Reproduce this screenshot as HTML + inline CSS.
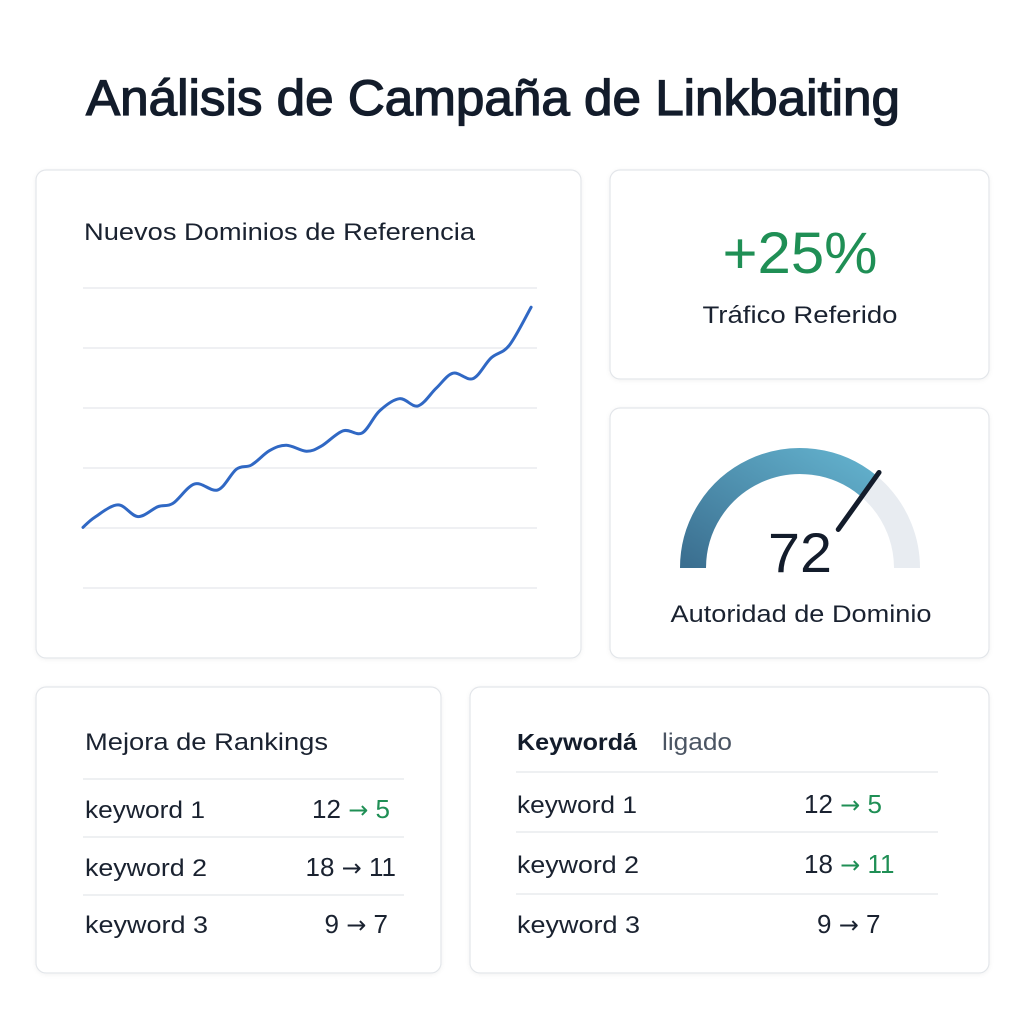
<!DOCTYPE html>
<html><head><meta charset="utf-8"><style>
html,body{margin:0;padding:0;background:#fff;}
svg{display:block;font-family:"Liberation Sans",sans-serif;}
.ar{font-family:"DejaVu Sans",sans-serif;font-size:24px;}
.num{font-size:26px;}
</style></head><body>
<svg width="1024" height="1024" viewBox="0 0 1024 1024">
<defs>
<filter id="sh" x="-5%" y="-5%" width="110%" height="110%"><feDropShadow dx="0" dy="1" stdDeviation="2" flood-color="#000" flood-opacity="0.05"/></filter>
<linearGradient id="gg" x1="0" y1="1" x2="1" y2="0"><stop offset="0" stop-color="#3b6f90"/><stop offset="1" stop-color="#62b0cc"/></linearGradient>
</defs>
<rect width="1024" height="1024" fill="#ffffff"/>
<text x="86" y="115" font-size="50" fill="#131c2b" stroke="#131c2b" stroke-width="1.3" textLength="814" lengthAdjust="spacingAndGlyphs">Análisis de Campaña de Linkbaiting</text>

<g fill="#fff" stroke="#e3e6ea" stroke-width="1.2" filter="url(#sh)">
<rect x="36" y="170" width="545" height="488" rx="10"/>
<rect x="610" y="170" width="379" height="209" rx="10"/>
<rect x="610" y="408" width="379" height="250" rx="10"/>
<rect x="36" y="687" width="405" height="286" rx="10"/>
<rect x="470" y="687" width="519" height="286" rx="10"/>
</g>

<text x="84" y="240" font-size="24" fill="#1a2230" textLength="391" lengthAdjust="spacingAndGlyphs">Nuevos Dominios de Referencia</text>
<g id="chart"></g>

<text x="800" y="273" font-size="58" fill="#1f8f55" text-anchor="middle" textLength="155" lengthAdjust="spacingAndGlyphs">+25%</text>
<text x="800" y="323" font-size="24" fill="#1a2230" text-anchor="middle" textLength="195" lengthAdjust="spacingAndGlyphs">Tráfico Referido</text>

<g id="gauge"></g>
<text x="800" y="572" font-size="56" fill="#131c2b" text-anchor="middle" textLength="64" lengthAdjust="spacingAndGlyphs">72</text>
<text x="801" y="622" font-size="24" fill="#1a2230" text-anchor="middle" textLength="261" lengthAdjust="spacingAndGlyphs">Autoridad de Dominio</text>

<text x="85" y="750" font-size="24" fill="#1a2230" textLength="243" lengthAdjust="spacingAndGlyphs">Mejora de Rankings</text>
<g stroke="#e3e6ea" stroke-width="1.2">
<line x1="83" y1="779" x2="404" y2="779"/><line x1="83" y1="837" x2="404" y2="837"/><line x1="83" y1="895" x2="404" y2="895"/>
<line x1="516" y1="772" x2="938" y2="772"/><line x1="516" y1="832" x2="938" y2="832"/><line x1="516" y1="894" x2="938" y2="894"/>
</g>
<g font-size="24" fill="#1a2230">
<text x="85" y="818" textLength="120" lengthAdjust="spacingAndGlyphs">keyword 1</text>
<text class="num" x="390" y="818" text-anchor="end">12 <tspan class="ar" fill="#1f8f55">→</tspan><tspan fill="#1f8f55"> 5</tspan></text>
<text x="85" y="876" textLength="122" lengthAdjust="spacingAndGlyphs">keyword 2</text>
<text class="num" x="396" y="876" text-anchor="end">18 <tspan class="ar">→</tspan> 11</text>
<text x="85" y="933" textLength="123" lengthAdjust="spacingAndGlyphs">keyword 3</text>
<text class="num" x="388" y="933" text-anchor="end">9 <tspan class="ar">→</tspan> 7</text>

<text x="517" y="750" font-weight="bold" font-size="23" fill="#131c2b" textLength="120" lengthAdjust="spacingAndGlyphs">Keywordá</text>
<text x="662" y="750" fill="#4b5563" textLength="70" lengthAdjust="spacingAndGlyphs">ligado</text>
<text x="517" y="813" textLength="120" lengthAdjust="spacingAndGlyphs">keyword 1</text>
<text class="num" x="804" y="813">12 <tspan class="ar" fill="#1f8f55">→</tspan><tspan fill="#1f8f55"> 5</tspan></text>
<text x="517" y="873" textLength="122" lengthAdjust="spacingAndGlyphs">keyword 2</text>
<text class="num" x="804" y="873">18 <tspan class="ar" fill="#1f8f55">→</tspan><tspan fill="#1f8f55"> 11</tspan></text>
<text x="517" y="933" textLength="123" lengthAdjust="spacingAndGlyphs">keyword 3</text>
<text class="num" x="817" y="933">9 <tspan class="ar">→</tspan> 7</text>
</g>
</svg>
<script>
const days = [0,2.6,7.7,12.1,16.5,19.8,24.6,29.7,33.8,37.1,41.1,44.8,49.2,52.5,57.3,61.5,65.3,69.7,73.8,77.8,81.5,85.9,89.9,93.9,98.7];
const domains = [20.2,23.6,27.7,23.8,27.1,28.2,34.7,32.7,39.6,41,45.8,47.6,45.6,47.3,52.4,51.7,59,63.1,60.7,66.6,71.6,69.8,76.7,80.9,93.6];
const gridValues = [0,20,40,60,80,100];
const authority = [72];
const NS='http://www.w3.org/2000/svg';
const X0=83,X1=537,Y0=588,Y1=288;
const xs=d=>X0+(X1-X0)*d/100, ys=v=>Y0-(Y0-Y1)*v/100;
const chart=document.getElementById('chart');
gridValues.forEach(v=>{const l=document.createElementNS(NS,'line');


l.setAttribute('x1',X0);l.setAttribute('x2',X1);l.setAttribute('y1',ys(v));l.setAttribute('y2',ys(v));
l.setAttribute('stroke','#e5e8ec');l.setAttribute('stroke-width','1.2');chart.appendChild(l);});
const P=days.map((d,i)=>[xs(d),ys(domains[i])]);
let dstr='M'+P[0][0]+','+P[0][1];
for(let i=0;i<P.length-1;i++){const p0=P[i-1]||P[i],p1=P[i],p2=P[i+1],p3=P[i+2]||p2;
const c1=[p1[0]+(p2[0]-p0[0])/6,p1[1]+(p2[1]-p0[1])/6],c2=[p2[0]-(p3[0]-p1[0])/6,p2[1]-(p3[1]-p1[1])/6];
dstr+=`C${c1[0]},${c1[1]} ${c2[0]},${c2[1]} ${p2[0]},${p2[1]}`;}
const path=document.createElementNS(NS,'path');


path.setAttribute('d',dstr);path.setAttribute('fill','none');path.setAttribute('stroke','#3068c4');path.setAttribute('stroke-width','3');path.setAttribute('stroke-linejoin','round');path.setAttribute('stroke-linecap','round');
chart.appendChild(path);
// gauge
const g=document.getElementById('gauge');const cx=800,cy=568,r=107;
const pt=a=>[cx+r*Math.cos(a),cy-r*Math.sin(a)];
function arc(a0,a1,stroke,name){const p0=pt(a0),p1=pt(a1);const e=document.createElementNS(NS,'path');


e.setAttribute('d',`M${p0[0]},${p0[1]} A${r},${r} 0 0 1 ${p1[0]},${p1[1]}`);
e.setAttribute('fill','none');e.setAttribute('stroke',stroke);e.setAttribute('stroke-width','26');e.setAttribute('stroke-linecap','butt');g.appendChild(e);}
const av=authority[0]/100*Math.PI;
arc(Math.PI-0.0001,0.0001,'#e8ecf1','gauge-track');
arc(Math.PI-0.0001,Math.PI-av,'url(#gg)','gauge-fill');
const n=document.createElementNS(NS,'line');


const a=Math.PI-av;
n.setAttribute('x1',cx+124*Math.cos(a));n.setAttribute('y1',cy-124*Math.sin(a));
n.setAttribute('x2',cx+60*Math.cos(a));n.setAttribute('y2',cy-50*Math.sin(a));
n.setAttribute('stroke','#131c2b');n.setAttribute('stroke-width','5');n.setAttribute('stroke-linecap','round');g.appendChild(n);
</script>
</body></html>
